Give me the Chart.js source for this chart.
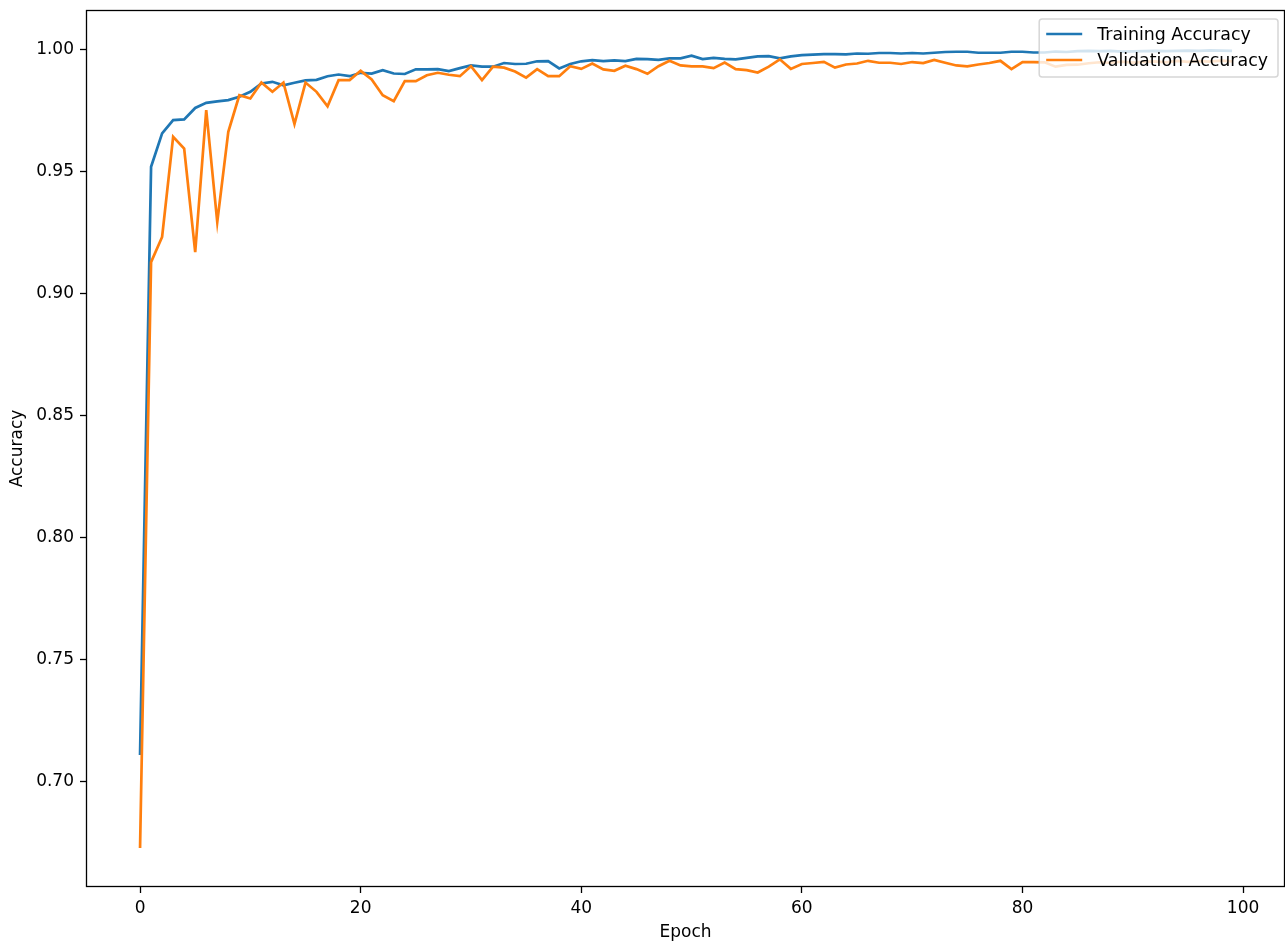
<!DOCTYPE html>
<html>
<head>
<meta charset="utf-8">
<script src="https://cdn.jsdelivr.net/npm/chart.js@4.4.1/dist/chart.umd.min.js"></script>
<style>
  html, body { margin: 0; padding: 0; background: #ffffff; }
  #wrap { width: 1285px; height: 941px; }
</style>
</head>
<body>
<div id="wrap"><canvas id="c" width="1285" height="941"></canvas></div>
<script>
const epochs = Array.from({length: 100}, (_, i) => i);

const trainingAccuracy = [
  0.711, 0.9518, 0.9655, 0.9709, 0.9712, 0.9759, 0.9780, 0.9786, 0.9791, 0.9805,
  0.9825, 0.9859, 0.9866, 0.9852, 0.9862, 0.9872, 0.9874, 0.9889, 0.9896, 0.9889,
  0.9903, 0.9900, 0.9914, 0.9900, 0.9898, 0.9917, 0.9917, 0.9918, 0.9910, 0.9922,
  0.9933, 0.9928, 0.9928, 0.9943, 0.9939, 0.9940, 0.9950, 0.9951, 0.9921, 0.9939,
  0.9950, 0.9955, 0.9951, 0.9954, 0.9951, 0.9960, 0.9959, 0.9956, 0.9962, 0.9962,
  0.9973, 0.9959, 0.9964, 0.9960, 0.9958, 0.9964, 0.9970, 0.9971, 0.9962, 0.9970,
  0.9975, 0.9977, 0.9979, 0.9979, 0.9978, 0.9982, 0.9981, 0.9984, 0.9984, 0.9982,
  0.9984, 0.9982, 0.9985, 0.9988, 0.9989, 0.9989, 0.9985, 0.9985, 0.9985, 0.9989,
  0.9989, 0.9986, 0.9986, 0.9990, 0.9988, 0.9992, 0.9993, 0.9992, 0.9993, 0.9990,
  0.9991, 0.9992, 0.9993, 0.9992, 0.9993, 0.9994, 0.9993, 0.9995, 0.9994, 0.9993
];

const validationAccuracy = [
  0.673, 0.9128, 0.9231, 0.9641, 0.9593, 0.9169, 0.9750, 0.9292, 0.9661, 0.9811,
  0.9798, 0.9863, 0.9825, 0.9863, 0.9693, 0.9863, 0.9825, 0.9766, 0.9873, 0.9873,
  0.9911, 0.9876, 0.9811, 0.9787, 0.9869, 0.9869, 0.9893, 0.9903, 0.9895, 0.9889,
  0.9930, 0.9873, 0.9928, 0.9924, 0.9908, 0.9883, 0.9918, 0.9889, 0.9889, 0.9930,
  0.9919, 0.9941, 0.9917, 0.9911, 0.9932, 0.9918, 0.9899, 0.9930, 0.9952, 0.9933,
  0.9929, 0.9929, 0.9922, 0.9945, 0.9918, 0.9914, 0.9904, 0.9928, 0.9958, 0.9919,
  0.9939, 0.9943, 0.9948, 0.9924, 0.9937, 0.9941, 0.9952, 0.9944, 0.9944, 0.9939,
  0.9947, 0.9943, 0.9956, 0.9944, 0.9933, 0.9929, 0.9937, 0.9943, 0.9952, 0.9918,
  0.9947, 0.9947, 0.9946, 0.9928, 0.9935, 0.9936, 0.9942, 0.9946, 0.9944, 0.9949,
  0.9945, 0.9948, 0.9950, 0.9946, 0.9952, 0.9948, 0.9951, 0.9949, 0.9953, 0.9950
];

const xTickValues = [0, 20, 40, 60, 80, 100];
const yTickValues = [0.70, 0.75, 0.80, 0.85, 0.90, 0.95, 1.00];
const seriesLabels = ['Training Accuracy', 'Validation Accuracy'];
const xAxisTitle = 'Epoch';
const yAxisTitle = 'Accuracy';

const FONT = "'DejaVu Sans', sans-serif";
const FS = 17;
const LEGEND_FS = 17.4;

const framePlugin = {
  id: 'frame',
  afterDatasetsDraw(chart) {
    const {ctx, chartArea: a} = chart;
    ctx.save();
    ctx.strokeStyle = '#000';
    ctx.lineWidth = 1.3;
    ctx.strokeRect(a.left + 0.5, a.top + 0.5, a.right - a.left - 1, a.bottom - a.top - 1);
    ctx.restore();
  }
};

const legendPlugin = {
  id: 'mplLegend',
  afterDraw(chart) {
    const {ctx, chartArea: a} = chart;
    const ds = chart.data.datasets;
    ctx.save();
    ctx.font = LEGEND_FS + 'px ' + FONT;
    let maxW = 0;
    ds.forEach(d => { maxW = Math.max(maxW, ctx.measureText(d.label).width); });
    const padL = 7, padR = 10, handle = 36, textPad = 15, rowH = 26;
    const right = a.right - 7;
    const top = 19;
    const width = padL + handle + textPad + maxW + padR;
    const height = 58;
    const left = right - width;
    const r = 3;
    ctx.beginPath();
    ctx.moveTo(left + r, top);
    ctx.lineTo(right - r, top);
    ctx.quadraticCurveTo(right, top, right, top + r);
    ctx.lineTo(right, top + height - r);
    ctx.quadraticCurveTo(right, top + height, right - r, top + height);
    ctx.lineTo(left + r, top + height);
    ctx.quadraticCurveTo(left, top + height, left, top + height - r);
    ctx.lineTo(left, top + r);
    ctx.quadraticCurveTo(left, top, left + r, top);
    ctx.closePath();
    ctx.fillStyle = 'rgba(255,255,255,0.8)';
    ctx.fill();
    ctx.strokeStyle = 'rgba(204,204,204,0.8)';
    ctx.lineWidth = 1.5;
    ctx.stroke();
    ds.forEach((d, i) => {
      const cy = top + 15 + i * rowH;
      ctx.beginPath();
      ctx.moveTo(left + padL, cy);
      ctx.lineTo(left + padL + handle, cy);
      ctx.strokeStyle = d.borderColor;
      ctx.lineWidth = 2.7;
      ctx.stroke();
      ctx.fillStyle = '#000';
      ctx.textBaseline = 'middle';
      ctx.textAlign = 'left';
      ctx.fillText(d.label, left + padL + handle + textPad, cy + 1);
    });
    ctx.restore();
  }
};

const whiteBg = {
  id: 'whiteBg',
  beforeDraw(chart) {
    const {ctx} = chart;
    ctx.save();
    ctx.fillStyle = '#fff';
    ctx.fillRect(0, 0, chart.width, chart.height);
    ctx.restore();
  }
};

new Chart(document.getElementById('c'), {
  type: 'line',
  data: {
    datasets: [
      {
        label: seriesLabels[0],
        data: epochs.map((e, i) => ({x: e, y: trainingAccuracy[i]})),
        borderColor: '#1f77b4',
        borderWidth: 2.7,
        pointRadius: 0,
        tension: 0,
        fill: false,
        order: 1
      },
      {
        label: seriesLabels[1],
        data: epochs.map((e, i) => ({x: e, y: validationAccuracy[i]})),
        borderColor: '#ff7f0e',
        borderWidth: 2.7,
        pointRadius: 0,
        tension: 0,
        fill: false,
        order: 0
      }
    ]
  },
  options: {
    responsive: false,
    animation: false,
    layout: { padding: { top: 10, left: 0, right: 0, bottom: 0 } },
    plugins: {
      legend: { display: false },
      tooltip: { enabled: false }
    },
    scales: {
      x: {
        type: 'linear',
        min: -4.9,
        max: 103.8,
        afterBuildTicks(scale) { scale.ticks = xTickValues.map(v => ({value: v})); },
        afterFit(scale) { scale.height = 54; scale.paddingLeft = 0; scale.paddingRight = 0; },
        ticks: {
          color: '#000',
          font: { family: FONT, size: FS },
          padding: 5,
          maxRotation: 0,
          callback: (v) => String(v)
        },
        grid: {
          drawOnChartArea: false,
          drawTicks: true,
          tickLength: 6,
          tickWidth: 1.3,
          tickColor: '#000',
          color: '#000'
        },
        border: { display: false },
        title: {
          display: true,
          text: xAxisTitle,
          color: '#000',
          font: { family: FONT, size: FS, lineHeight: 1 },
          padding: { top: 0, bottom: 0 }
        }
      },
      y: {
        type: 'linear',
        min: 0.657,
        max: 1.016,
        afterBuildTicks(scale) { scale.ticks = yTickValues.map(v => ({value: v})); },
        afterFit(scale) { scale.width = 86; scale.paddingTop = 0; scale.paddingBottom = 0; },
        ticks: {
          color: '#000',
          font: { family: FONT, size: FS },
          padding: 6,
          callback: (v) => Number(v).toFixed(2)
        },
        grid: {
          drawOnChartArea: false,
          drawTicks: true,
          tickLength: 6,
          tickWidth: 1.3,
          tickColor: '#000',
          color: '#000'
        },
        border: { display: false },
        title: {
          display: true,
          text: yAxisTitle,
          color: '#000',
          font: { family: FONT, size: FS, lineHeight: 1 },
          padding: { top: 9, bottom: 0 }
        }
      }
    }
  },
  plugins: [whiteBg, framePlugin, legendPlugin]
});
</script>
</body>
</html>
